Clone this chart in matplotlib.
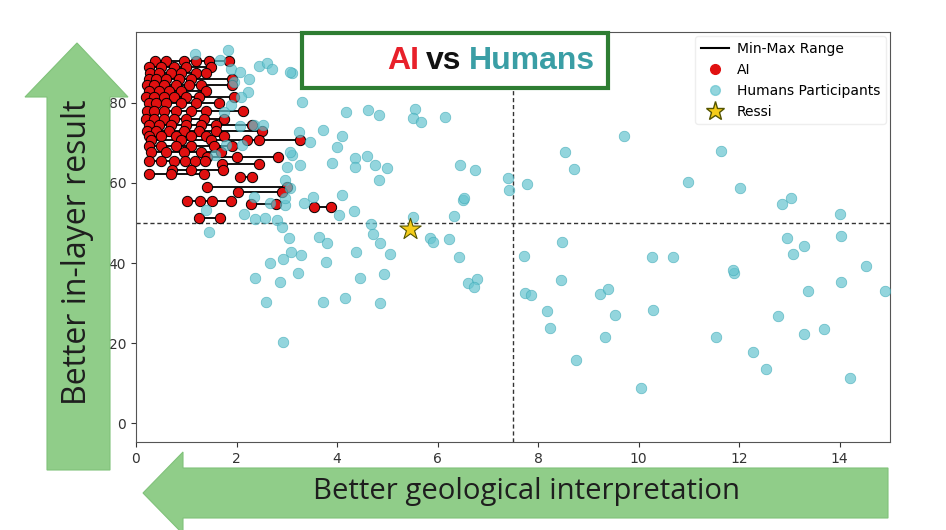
import numpy as np
import matplotlib
matplotlib.use("Agg")
import matplotlib.pyplot as plt
from matplotlib.patches import Polygon, Rectangle
from matplotlib.lines import Line2D

# AI runs: one row per prompt, y score and the x values of each run
ai_y = [90.5, 89.0, 87.5, 86.0, 84.5, 83.0, 81.5, 80.0, 78.0, 76.0, 74.5, 73.0,
        71.8, 70.7, 69.2, 67.8, 66.6, 65.5, 64.7, 63.3, 62.2, 61.6, 59.0, 57.8,
        55.5, 54.8, 54.0, 51.3]
ai_x = [[0.38, 0.6, 0.95, 1.2, 1.45, 1.85],
        [0.25, 0.5, 0.75, 1.0, 1.5],
        [0.28, 0.45, 0.7, 0.9, 1.2, 1.4],
        [0.25, 0.4, 0.6, 0.85, 1.1, 1.9],
        [0.22, 0.35, 0.55, 0.8, 1.05, 1.3, 1.9],
        [0.25, 0.45, 0.65, 0.9, 1.4],
        [0.2, 0.35, 0.55, 0.75, 1.0, 1.25, 1.95],
        [0.25, 0.4, 0.6, 0.9, 1.2, 1.65],
        [0.22, 0.35, 0.55, 0.8, 1.1, 1.4, 2.12],
        [0.2, 0.35, 0.55, 0.75, 1.0, 1.35, 1.75],
        [0.25, 0.45, 0.7, 1.0, 1.3, 1.6, 2.3],
        [0.22, 0.4, 0.65, 0.95, 1.25, 1.6, 2.5],
        [0.25, 0.5, 0.8, 1.1, 1.4, 1.75],
        [0.3, 0.9, 1.5, 2.2, 2.45, 3.27],
        [0.26, 0.49, 0.8, 1.09, 1.55, 1.9],
        [0.3, 0.6, 0.95, 1.3, 1.7],
        [1.41, 2.0, 2.83],
        [0.26, 0.49, 0.75, 0.98, 1.18, 1.38],
        [1.71, 2.45],
        [0.72, 1.1, 1.74],
        [0.26, 0.70, 1.35],
        [2.07, 2.31],
        [1.41, 3.0],
        [2.03, 2.91],
        [1.01, 1.27, 1.52, 1.89],
        [2.29, 2.79],
        [3.55, 3.88],
        [1.25, 1.67]]

# human participants
human_x = [9.71, 8.53, 8.71, 7.40, 7.42, 7.77, 11.63, 10.98, 12.01, 12.86, 13.04, 14.00,
           14.02, 12.96, 13.28, 13.08, 14.52, 14.02, 14.90, 13.37, 12.78, 13.28, 13.68, 14.21,
           11.90, 11.88, 11.53, 12.28, 12.54, 10.27, 10.68, 10.29, 10.04, 9.52, 9.34, 9.23,
           9.39, 8.48, 8.46, 7.72, 7.73, 7.86, 8.18, 8.23, 8.76,
           1.39, 1.45, 2.15, 2.37, 2.81, 2.90, 2.97, 3.35, 4.04, 4.34, 4.67, 4.71,
           4.85, 5.51, 5.84, 5.91, 6.22, 6.33, 6.51, 6.42, 6.60, 6.79, 6.73, 3.05,
           3.65, 3.80, 3.08, 3.28, 2.92, 2.67, 3.78, 4.38, 5.06, 3.23, 2.36, 2.87,
           4.45, 4.93, 2.59, 3.73, 4.16, 4.85, 2.92,
           3.30, 4.18, 4.61, 4.83, 5.56, 5.52, 5.66, 6.14, 3.72, 4.10, 4.00, 3.47,
           3.27, 3.90, 4.36, 4.36, 4.60, 4.76, 4.99, 4.83, 6.45, 6.75, 6.52, 4.10,
           3.53, 3.10, 3.10,
           1.18, 1.84, 1.67, 2.45, 2.60, 2.70, 3.07, 1.89, 2.07, 2.25, 1.95, 2.22,
           2.09, 1.89, 1.75, 2.35, 2.52, 3.25, 2.07, 1.80, 2.10, 3.07, 1.57, 3.0,
           2.97, 3.07, 2.97, 2.67, 2.34, 2.57]
human_y = [71.75, 67.7, 63.5, 61.2, 58.25, 59.7, 68.0, 60.3, 58.8, 54.7, 56.3, 52.2,
           46.8, 46.3, 44.3, 42.2, 39.3, 35.3, 33.1, 33.0, 26.8, 22.25, 23.4, 11.3,
           37.4, 38.3, 21.4, 17.8, 13.5, 41.6, 41.4, 28.25, 8.9, 27.0, 21.6, 32.2,
           33.4, 45.3, 35.75, 41.8, 32.6, 32.0, 28.1, 23.8, 15.9,
           53.25, 47.7, 52.25, 50.9, 50.75, 49.1, 54.5, 54.9, 52.0, 53.0, 49.75, 47.2,
           45.1, 51.4, 46.3, 45.2, 46.0, 51.75, 55.75, 41.6, 34.9, 35.9, 33.9, 46.2,
           46.4, 45.1, 42.8, 42.0, 40.9, 39.9, 40.2, 42.7, 42.2, 37.6, 36.2, 35.3,
           36.3, 37.25, 30.3, 30.3, 31.3, 29.9, 20.3,
           80.3, 77.6, 78.25, 77.0, 78.5, 76.2, 75.1, 76.4, 73.1, 71.75, 68.9, 70.3,
           64.5, 64.9, 66.2, 64.1, 66.75, 64.5, 63.7, 60.75, 64.5, 63.25, 56.2, 57.0,
           56.6, 87.4, 67.0,
           92.25, 93.1, 90.75, 89.1, 89.9, 88.4, 87.6, 88.4, 87.7, 85.9, 85.3, 82.8,
           81.4, 79.5, 77.8, 74.5, 74.5, 72.8, 74.1, 69.5, 69.5, 67.8, 67.0, 64.1,
           60.75, 58.7, 56.2, 54.9, 56.6, 51.2]

ressi_x = [5.45]
ressi_y = [48.5]

x_split = 7.5
y_split = 50

W, H = 946, 530
fig = plt.figure(figsize=(W / 100, H / 100), dpi=100)
ax = fig.add_axes([136 / W, 1 - 442 / H, (890 - 136) / W, (442 - 32) / H])

# min-max lines then the runs
for y, xs in zip(ai_y, ai_x):
    ax.plot([min(xs), max(xs)], [y, y], color='black', lw=1.3, zorder=2)
for y, xs in zip(ai_y, ai_x):
    ax.scatter(xs, [y] * len(xs), s=55, color='#e01010', edgecolors='black',
               linewidths=0.7, zorder=3)

ax.scatter(human_x, human_y, s=58, color='#66c4cf', alpha=0.7,
           edgecolors='#3aa8b6', linewidths=0.5, zorder=4)
ax.scatter(ressi_x, ressi_y, marker='*', s=260, color='#f5cc1a',
           edgecolors='#555500', linewidths=0.8, zorder=5)

ax.axhline(y_split, color='#333333', lw=1, linestyle=(0, (3, 2)), zorder=1)
ax.axvline(x_split, color='#333333', lw=1, linestyle=(0, (3, 2)), zorder=1)

ax.set_xlim(0, 15)
ax.set_ylim(-4.7, 97.7)
ax.set_xticks([0, 2, 4, 6, 8, 10, 12, 14])
ax.set_yticks([0, 20, 40, 60, 80])
ax.tick_params(labelsize=10, colors='#333333')
for sp in ax.spines.values():
    sp.set_color('#555555')

handles = [Line2D([0], [0], color='black', lw=1.5),
           Line2D([0], [0], marker='o', ls='none', color='#e01010', markersize=7),
           Line2D([0], [0], marker='o', ls='none', color='#66c4cf', alpha=0.7, markersize=7),
           Line2D([0], [0], marker='*', ls='none', color='#f5cc1a',
                  markeredgecolor='#555500', markersize=14)]
ax.legend(handles, ['Min-Max Range', 'AI', 'Humans Participants', 'Ressi'],
          loc='upper right', fontsize=10, labelspacing=0.5, handlelength=2.0,
          handletextpad=0.6, borderaxespad=0.3, framealpha=0.95, edgecolor='#eeeeee')

# overlay for arrows and title box, pixel coords
ov = fig.add_axes([0, 0, 1, 1], zorder=10)
ov.set_xlim(0, W)
ov.set_ylim(H, 0)
ov.axis('off')
ov.patch.set_alpha(0)

green = '#90cd89'
up_arrow = [(77, 43), (25, 97), (47, 97), (47, 470), (110, 470), (110, 97), (128, 97)]
ov.add_patch(Polygon(up_arrow, closed=True, facecolor=green, edgecolor='#80c27a', lw=0.8))
left_arrow = [(143, 493), (183, 452), (183, 468), (888, 468), (888, 518),
              (183, 518), (183, 534)]
ov.add_patch(Polygon(left_arrow, closed=True, facecolor=green, edgecolor='#80c27a', lw=0.8))

fig.canvas.draw()
r = fig.canvas.get_renderer()

# arrow labels, sized so their length matches the picture
labels = [(78, 252, 'Better in-layer result', 90, 305),
          (526, 492, 'Better geological interpretation', 0, 425)]
for lx, ly, s, rot, target in labels:
    t = ov.text(lx, ly, s, rotation=rot, ha='center', va='center', fontsize=20,
                family=['Open Sans', 'DejaVu Sans'], color='#1e1e1e')
    bb = t.get_window_extent(r)
    size = bb.height if rot == 90 else bb.width
    t.set_fontsize(20 * target / size)

ov.add_patch(Rectangle((302, 33), 306, 55, facecolor='white', edgecolor='#2e7d32', lw=3))

xpos = 387
for s, c in [('AI', '#e8202a'), ('vs', '#111111'), ('Humans', '#3a9ea5')]:
    t = ov.text(xpos, 61, s, ha='left', va='center', fontsize=23, fontweight='bold',
                family=['Liberation Sans', 'DejaVu Sans'], color=c)
    bb = t.get_window_extent(r)
    xpos = xpos + bb.width + 7

fig.savefig('out.png', dpi=100)
